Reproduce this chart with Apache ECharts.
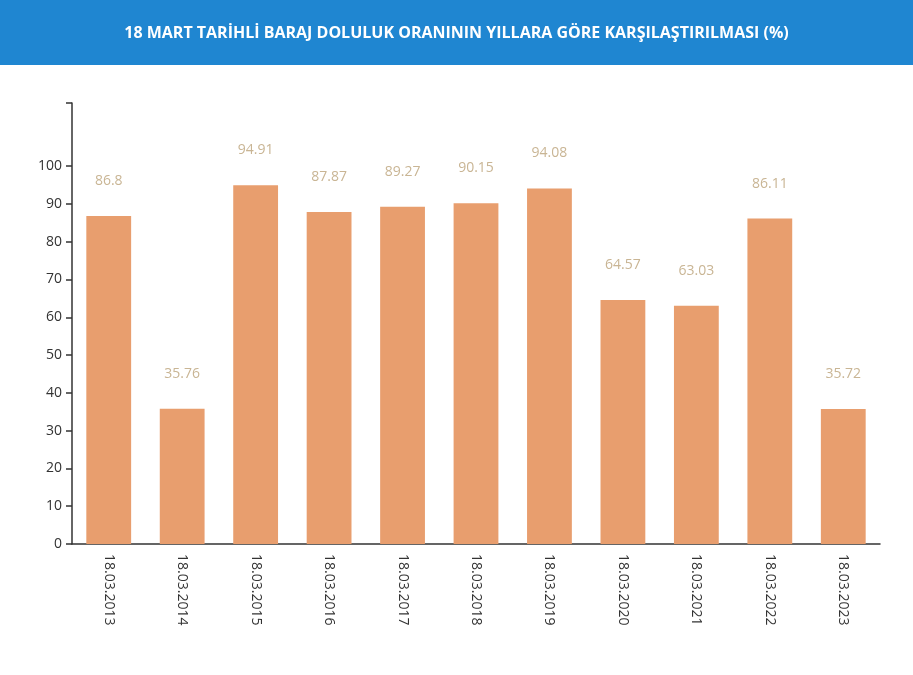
<!DOCTYPE html>
<html><head><meta charset="utf-8">
<script src="https://cdn.jsdelivr.net/npm/echarts@6/dist/echarts.min.js"></script>
<style>html,body{margin:0;padding:0;background:#fff}#c{width:913px;height:675px}</style>
</head><body><div id="c"></div>
<script>
const categories = ["18.03.2013","18.03.2014","18.03.2015","18.03.2016","18.03.2017","18.03.2018","18.03.2019","18.03.2020","18.03.2021","18.03.2022","18.03.2023"];
const values = [86.8,35.76,94.91,87.87,89.27,90.15,94.08,64.57,63.03,86.11,35.72];
const yTickLabels = [0,10,20,30,40,50,60,70,80,90,100];
const yAxisMax = 116.7;
const titleText = "18 MART TARİHLİ BARAJ DOLULUK ORANININ YILLARA GÖRE KARŞILAŞTIRILMASI (%)";

const chart = echarts.init(document.getElementById('c'));
chart.setOption({
  backgroundColor: '#fff',
  animation: false,
  graphic: [{type:'rect', left:0, top:0, shape:{width:913, height:65}, style:{fill:'#1f86d1'}, z:-1}],
  title: {text: titleText, left: 'center', top: 20,
    textStyle:{color:'#fff', fontSize:16, fontWeight:'bold', fontFamily:'Open Sans'}},
  grid: {left:72, right:33, top:103, bottom:131, containLabel:false},
  xAxis: {type:'category', data:categories,
    axisLine:{lineStyle:{color:'#333', width:1.5}},
    axisTick:{alignWithLabel:true, length:6, lineStyle:{color:'#333', width:1.5}},
    axisLabel:{rotate:-90, color:'#333', fontSize:14, fontFamily:'Open Sans', margin:10}},
  yAxis: {type:'value', min:0, max:yAxisMax,
    splitLine:{show:false},
    axisLine:{show:true, lineStyle:{color:'#333', width:1.5}},
    axisTick:{show:true, length:6, customValues: yTickLabels.concat([yAxisMax]), lineStyle:{color:'#333', width:1.5}},
    axisLabel:{customValues: yTickLabels, color:'#333', fontSize:14, fontFamily:'Open Sans', margin:10}},
  series: [{type:'bar', data:values, barWidth:'61%',
    itemStyle:{color:'#e89e6e'},
    label:{show:true, position:'top', distance:28, color:'#c9b594', fontSize:14, fontFamily:'Open Sans'}}]
});
</script></body></html>
